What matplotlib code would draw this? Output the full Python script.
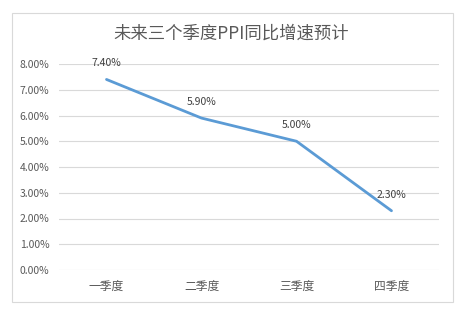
import matplotlib.pyplot as plt
from matplotlib.patches import Rectangle

plt.rcParams['font.family'] = ['Noto Sans CJK SC', 'DejaVu Sans']

quarters = ["一季度", "二季度", "三季度", "四季度"]
ppi_growth = [7.40, 5.90, 5.00, 2.30]
title = "未来三个季度PPI同比增速预计"

fig = plt.figure(figsize=(4.63, 3.23), dpi=100)
fig.patch.set_facecolor('white')

# outer chart frame
fig.patches.append(Rectangle((12 / 463, 1 - 302 / 323), 441 / 463, 289 / 323,
                             transform=fig.transFigure, fill=False,
                             edgecolor='#d9d9d9', linewidth=0.8))

ax = fig.add_axes([59 / 463, 1 - 270 / 323, 380 / 463, 206 / 323])
x = range(len(quarters))
ax.plot(x, ppi_growth, color='#5b9bd5', linewidth=2.0, solid_capstyle='round')

for i, v in zip(x, ppi_growth):
    ax.annotate('%.2f%%' % v, (i, v), xytext=(0, 8), textcoords='offset points',
                ha='center', va='bottom', fontsize=7.5, color='#404040')

ax.set_xlim(-0.5, len(quarters) - 0.5)
ax.set_ylim(0, 8)
ax.set_yticks(range(0, 9))
ax.set_yticklabels(['%.2f%%' % t for t in range(0, 9)])
ax.set_xticks(list(x))
ax.set_xticklabels(quarters)
ax.tick_params(axis='both', length=0, labelsize=7.5, labelcolor='#595959')
ax.tick_params(axis='y', pad=7)
ax.tick_params(axis='x', pad=7, labelsize=8.5)
ax.grid(axis='y', color='#d9d9d9', linewidth=0.8)
ax.set_axisbelow(True)
for s in ax.spines.values():
    s.set_visible(False)

fig.text(0.5, 1 - 34 / 323, title, ha='center', va='center',
         fontsize=12.5, color='#595959')

fig.savefig('out.png', dpi=100)
